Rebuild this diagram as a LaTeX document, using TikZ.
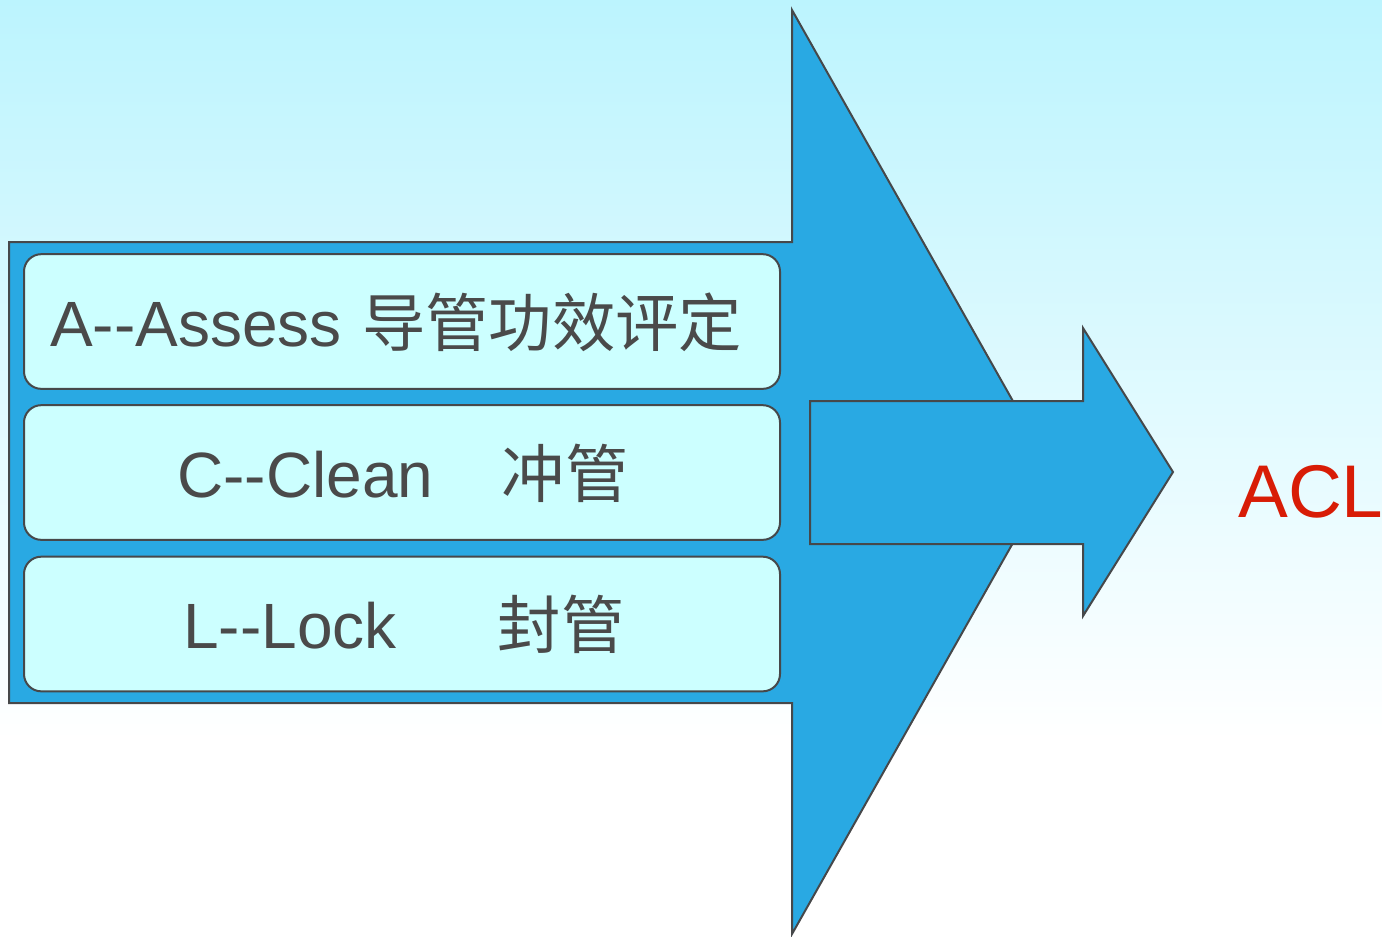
\documentclass[tikz,border=0pt]{standalone}
\usepackage{fontspec}
\setmainfont{Liberation Sans}
\newfontfamily\cjk{Noto Sans CJK SC}
\definecolor{bgtop}{RGB}{188,244,254}
\definecolor{arrowblue}{RGB}{41,169,227}
\definecolor{edge}{RGB}{70,72,74}
\definecolor{boxfill}{RGB}{204,255,255}
\definecolor{txtgray}{RGB}{74,74,74}
\definecolor{aclred}{RGB}{216,28,6}
\begin{document}
\begin{tikzpicture}[x=0.75pt,y=-0.75pt,
  arrowshape/.style={fill=arrowblue,draw=edge,line width=1.5pt,line join=miter},
  itembox/.style={draw=edge,fill=boxfill,line width=1.5pt,rounded corners=13pt,
    minimum width=567pt,minimum height=101pt,inner sep=0pt},
  lat/.style={text=txtgray,font=\fontsize{48pt}{54pt}\selectfont,inner sep=0pt,anchor=base west},
  han/.style={text=txtgray,font=\cjk\fontsize{47.5pt}{53pt}\selectfont,inner sep=0pt,anchor=center}]
\useasboundingbox (0,0) rectangle (1382,936);
\shade[top color=bgtop,bottom color=white] (0,0) rectangle (1382,740);
\fill[white] (0,740) rectangle (1382,936);
% big arrow
\draw[arrowshape] (9,242) -- (792,242) -- (792,10) -- (1053,472) -- (792,934) -- (792,703) -- (9,703) -- cycle;
% small arrow
\draw[arrowshape] (810,401) -- (1083,401) -- (1083,328) -- (1173,472) -- (1083,616) -- (1083,544) -- (810,544) -- cycle;
% boxes
\node[itembox] (boxA) at (402,321.5) {};
\node[itembox] (boxC) at (402,472.5) {};
\node[itembox] (boxL) at (402,624) {};
% texts
\node[lat] (tA) at (50,346) {A\mbox{-}\mbox{-}Assess};
\node[han] (hA) at (552,322) {导管功效评定};
\node[lat] (tC) at (177,497) {C\mbox{-}\mbox{-}Clean};
\node[han] (hC) at (565,473) {冲管};
\node[lat] (tL) at (183,648) {L\mbox{-}\mbox{-}Lock};
\node[han] (hL) at (561,624) {封管};
\node[text=aclred,font=\fontsize{56pt}{62pt}\selectfont,inner sep=0pt,anchor=base west] (acl) at (1238,517) {ACL};
\end{tikzpicture}
\end{document}
